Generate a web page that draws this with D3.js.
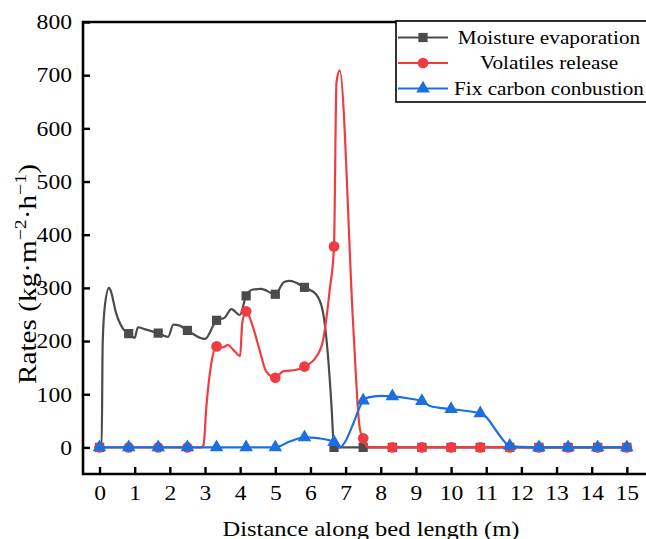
<!DOCTYPE html>
<html>
<head>
<meta charset="utf-8">
<script src="https://cdn.jsdelivr.net/npm/d3@7"></script>
<style>
  body { margin: 0; background: #fff; }
  text { font-family: "Liberation Serif", "Times New Roman", serif; fill: #000; }
</style>
</head>
<body>
<script>
/* Data */
const seriesNames = ["Moisture evaporation", "Volatiles release", "Fix carbon conbustion"];
const markerX = [0, 0.83, 1.67, 2.5, 3.33, 4.17, 5.0, 5.83, 6.67, 7.5, 8.33, 9.17, 10.0, 10.83, 11.67, 12.5, 13.33, 14.17, 15.0];

const moistureMarks = [0, 214, 215, 220, 239, 285, 288, 301, 0, 0, 0, 0, 0, 0, 0, 0, 0, 0, 0];
const volatilesMarks = [0, 0, 0, 0, 190, 256, 131, 152, 378, 17, 0, 0, 0, 0, 0, 0, 0, 0, 0];
const carbonMarks = [0, 0, 0, 0, 0, 0, 0, 19, 10, 88, 96, 87, 72, 64, 3, 0, 0, 0, 0];

// traced curve between the markers
const moistureX = [0, 0.06, 0.09, 0.15, 0.27, 0.31, 0.47, 0.66, 0.83, 1.0, 1.09, 1.3, 1.67, 1.95, 2.1, 2.28, 2.5, 3.0, 3.33, 3.56, 3.75, 3.99, 4.17, 4.36, 4.6, 5.0, 5.25, 5.41, 5.83, 6.17, 6.36, 6.5, 6.6, 6.67, 15];
const moistureY = [0, 0, 196, 265, 300, 296, 253, 224, 214, 206, 226, 222, 215, 208, 231, 229, 220, 204, 239, 244, 260, 249, 285, 297, 298, 288, 311, 313, 301, 287, 253, 171, 77, 0, 0];

const volatilesX = [0, 2.9, 2.96, 3.04, 3.18, 3.33, 3.51, 3.65, 3.8, 4.0, 4.06, 4.17, 4.36, 4.55, 4.74, 5.0, 5.22, 5.6, 5.83, 6.17, 6.36, 6.55, 6.67, 6.74, 6.83, 7.2, 7.3, 7.36, 7.41, 7.5, 7.62, 7.75, 15];
const volatilesY = [0, 0, 5, 77, 158, 190, 188, 193, 184, 172, 234, 256, 227, 184, 143, 131, 143, 146, 152, 171, 202, 297, 378, 686, 709, 250, 127, 64, 33, 17, 1, 0, 0];

const carbonX = [0, 5.0, 5.41, 5.83, 6.26, 6.67, 6.83, 7.0, 7.2, 7.5, 7.65, 8.0, 8.33, 8.8, 9.17, 9.4, 10.0, 10.83, 11.0, 11.3, 11.67, 12.0, 12.5, 15];
const carbonY = [0, 0, 11, 19, 17, 10, 0, 12, 42, 88, 94, 97, 96, 92, 87, 78, 72, 64, 57, 30, 3, 1, 0, 0];

const xTicks = [0, 1, 2, 3, 4, 5, 6, 7, 8, 9, 10, 11, 12, 13, 14, 15];
const yTicks = [0, 100, 200, 300, 400, 500, 600, 700, 800];

/* Constants */
const w = 646;
const h = 539;
const padLeft = 83, padTop = 22, padBottom = 474, padRight = 662;
const wide = 1.18; // the source picture's text is a bit wider than the font

const svg = d3.select("body").append("svg")
  .attr("width", w)
  .attr("height", h);

// widen text glyphs horizontally
let stretch = sel => sel.each(function () {
  const L = this.getComputedTextLength();
  d3.select(this).attr("textLength", L * wide).attr("lengthAdjust", "spacingAndGlyphs");
});

/* Scales */
const xScale = d3.scaleLinear().domain([-0.47, 16]).range([padLeft, padRight]);
const yScale = d3.scaleLinear().domain([-50, 800]).range([padBottom, padTop]);

/* Axis */
const xAxis = d3.axisBottom(xScale).tickValues(xTicks).tickSizeInner(-7).tickSizeOuter(0).tickPadding(12);
const yAxis = d3.axisLeft(yScale).tickValues(yTicks).tickSizeInner(-7).tickSizeOuter(0).tickPadding(11);

const gx = svg.append("g")
  .attr("transform", "translate(0," + padBottom + ")")
  .call(xAxis);
const gy = svg.append("g")
  .attr("transform", "translate(" + padLeft + ",0)")
  .call(yAxis);

[gx, gy].forEach(g => {
  g.select(".domain").remove();
  g.selectAll(".tick line").attr("stroke", "#000").attr("stroke-width", 2.4);
  g.selectAll(".tick text").style("font-size", "20px").attr("fill", "#000");
  stretch(g.selectAll(".tick text"));
});
gy.selectAll(".tick text").attr("dy", "0.34em");

// frame: left, bottom, top
svg.append("path")
  .attr("d", "M" + padRight + "," + padTop + "H" + padLeft + "V" + padBottom + "H" + padRight)
  .attr("fill", "none")
  .attr("stroke", "#000")
  .attr("stroke-width", 2.6);

/* Titles */
svg.append("text")
  .attr("x", 371)
  .attr("y", 536)
  .attr("text-anchor", "middle")
  .attr("textLength", 297)
  .attr("lengthAdjust", "spacingAndGlyphs")
  .style("font-size", "21.5px")
  .text("Distance along bed length (m)");

const yt = svg.append("text")
  .attr("transform", "translate(36,274) rotate(-90) scale(1,1.04)")
  .attr("text-anchor", "middle")
  .attr("textLength", 220)
  .attr("lengthAdjust", "spacingAndGlyphs")
  .style("font-size", "25px");
yt.append("tspan").text("Rates (kg·m");
yt.append("tspan").attr("dy", -10).style("font-size", "17px").text("−2");
yt.append("tspan").attr("dy", 10).text("·h");
yt.append("tspan").attr("dy", -10).style("font-size", "17px").text("−1");
yt.append("tspan").attr("dy", 10).text(")");

/* Series */
const series = [
  { name: seriesNames[0], xs: moistureX, ys: moistureY, marks: moistureMarks, color: "#4b4b4b", shape: d3.symbolSquare, size: 85 },
  { name: seriesNames[1], xs: volatilesX, ys: volatilesY, marks: volatilesMarks, color: "#f03c40", shape: d3.symbolCircle, size: 90 },
  { name: seriesNames[2], xs: carbonX, ys: carbonY, marks: carbonMarks, color: "#1c6fdf", shape: d3.symbolTriangle, size: 80 }
];

const line = d3.line()
  .x(d => xScale(d[0]))
  .y(d => yScale(d[1]))
  .curve(d3.curveMonotoneX);

series.forEach(s => {
  const pts = s.xs.map((x, i) => [x, s.ys[i]]);
  svg.append("path")
    .datum(pts)
    .attr("d", line)
    .attr("fill", "none")
    .attr("stroke", s.color)
    .attr("stroke-width", 2.2);

  svg.selectAll(null)
    .data(markerX.map((x, i) => [x, s.marks[i]]))
    .enter()
    .append("path")
    .attr("d", d3.symbol().type(s.shape).size(s.size))
    .attr("transform", d => "translate(" + xScale(d[0]) + "," + yScale(d[1]) + ")")
    .attr("fill", s.color);
});

/* Legend */
const lg = svg.append("g");
lg.append("rect")
  .attr("x", 396).attr("y", 21)
  .attr("width", 270).attr("height", 81)
  .attr("fill", "#fff")
  .attr("stroke", "#000")
  .attr("stroke-width", 1.6);

series.forEach((s, i) => {
  const y = 37.5 + i * 25.5;
  lg.append("line")
    .attr("x1", 398).attr("x2", 448)
    .attr("y1", y).attr("y2", y)
    .attr("stroke", s.color)
    .attr("stroke-width", 2.2);
  lg.append("path")
    .attr("d", d3.symbol().type(s.shape).size(s.size))
    .attr("transform", "translate(423," + y + ")")
    .attr("fill", s.color);
  lg.append("text")
    .attr("x", 549).attr("y", y)
    .attr("dy", "0.35em")
    .attr("text-anchor", "middle")
    .style("font-size", "18px")
    .text(s.name)
    .call(stretch);
});
</script>
</body>
</html>
